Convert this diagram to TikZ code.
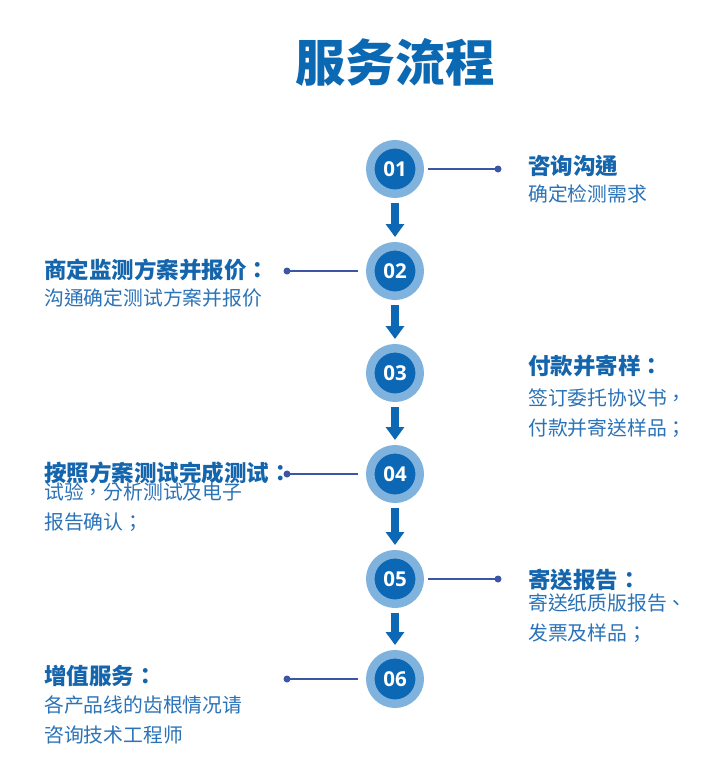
\documentclass[tikz,border=0pt]{standalone}
\usepackage{fontspec}
\newfontfamily\cjk{Noto Sans CJK TC}
\newfontfamily\numfont{Open Sans}
\usetikzlibrary{arrows.meta}
\definecolor{titleblue}{HTML}{0B68B3}
\definecolor{innerblue}{HTML}{0C67B4}
\definecolor{outerblue}{HTML}{7FB2DC}
\definecolor{lineblue}{HTML}{3C55A5}
\definecolor{headblue}{HTML}{1565AD}
\definecolor{bodyblue}{HTML}{2A73B8}
\tikzset{
  numcircle/.style={circle, fill=innerblue, draw=outerblue, line width=8.5pt, minimum size=49.5pt, inner sep=0pt, text=white, font=\numfont\bfseries\fontsize{20.5}{20.5}\selectfont},
  flowarrow/.style={line width=8pt, innerblue, -{Triangle[width=18pt,length=13pt]}, shorten <=5pt, shorten >=5pt},
  leader/.style={line width=2.5pt, lineblue},
  heading/.style={anchor=base west, inner sep=0pt, text=headblue, font=\cjk\bfseries\fontsize{22.5}{26}\selectfont},
  body/.style={anchor=base west, inner sep=0pt, align=left, text=bodyblue, font=\cjk\fontsize{19.8}{30}\selectfont},
}
\begin{document}
\begin{tikzpicture}[x=1pt,y=-1pt]
	\fill[white] (0,0) rectangle (715,768);
	\useasboundingbox (0,0) rectangle (715,768);
	\node[text=titleblue, font=\cjk\bfseries\fontsize{50}{50}\selectfont] (title) at (395,62) {服务流程};
	% steps
	\foreach \i/\y in {1/169,2/271,3/373,4/474,5/579,6/679}
		\node[numcircle] (c\i) at (395,\y) {0\i};
	\foreach \i in {1,...,5}{
		\pgfmathtruncatemacro\j{\i+1}
		\draw[flowarrow] (c\i.south) -- (c\j.north);
	}
	% leaders
	\coordinate (d1) at (498,169);
	\coordinate (d2) at (287,271);
	\coordinate (d4) at (287,474);
	\coordinate (d5) at (498,579);
	\coordinate (d6) at (287,679);
	\draw[leader, shorten <=4pt] (c1.east) -- (d1);
	\draw[leader, shorten <=8pt] (c2.west) -- (d2);
	\draw[leader, shorten <=8pt] (c4.west) -- (d4);
	\draw[leader, shorten <=4pt] (c5.east) -- (d5);
	\draw[leader, shorten <=8pt] (c6.west) -- (d6);
	\foreach \d in {d1,d2,d4,d5,d6}
		\fill[lineblue] (\d) circle (3.5pt);
	% texts
	\node[heading] (h1) at (528,174) {咨询沟通};
	\node[body] (b1) at (528,201) {确定检测需求};
	\node[heading] (h2) at (44,278) {商定监测方案并报价：};
	\node[body] (b2) at (44,305) {沟通确定测试方案并报价};
	\node[heading] (h3) at (528,374) {付款并寄样：};
	\node[body] (b3) at (528,435) {签订委托协议书，\\付款并寄送样品；};
	\node[heading] (h4) at (44,481) {按照方案测试完成测试：};
	\node[body] (b4) at (44,529) {试验，分析测试及电子\\报告确认；};
	\node[heading] (h5) at (528,588) {寄送报告：};
	\node[body] (b5) at (528,640) {寄送纸质版报告、\\发票及样品；};
	\node[heading] (h6) at (44,684) {增值服务：};
	\node[body] (b6) at (44,742) {各产品线的齿根情况请\\咨询技术工程师};
\end{tikzpicture}
\end{document}
